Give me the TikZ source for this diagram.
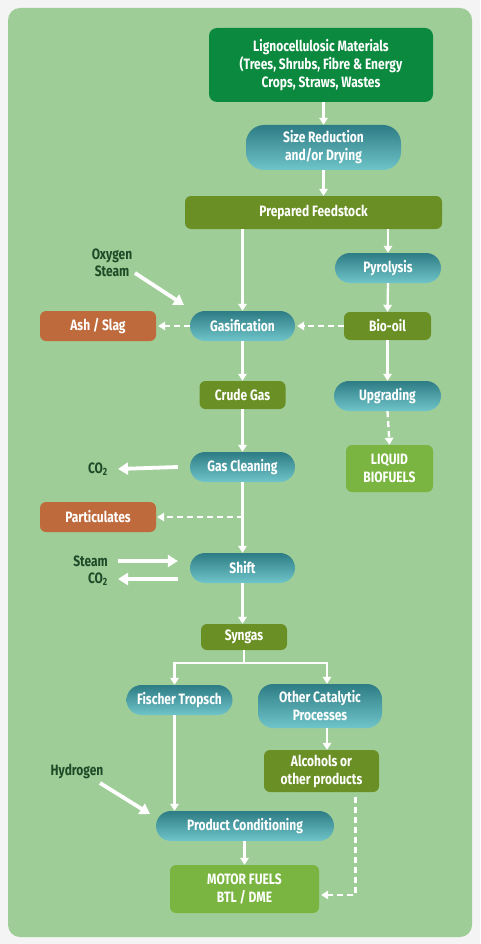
\documentclass[tikz,border=0pt]{standalone}
\usepackage{fontspec}
\setmainfont{Fira Sans}[FakeStretch=0.8]
\usetikzlibrary{arrows.meta}
\definecolor{frame}{HTML}{F4F4F4}
\definecolor{bg}{HTML}{9FCD97}
\definecolor{dkgreen}{HTML}{0B8A3F}
\definecolor{olive}{HTML}{6A8F25}
\definecolor{orng}{HTML}{BF6A3C}
\definecolor{ltgreen}{HTML}{79B540}
\definecolor{tealtop}{HTML}{2E7C85}
\definecolor{tealbot}{HTML}{6FC5C9}
\definecolor{lblcol}{HTML}{1F4A28}
\tikzset{
  box/.style={rectangle, rounded corners=6pt, text=white, inner sep=0pt, align=center,
    font=\bfseries\fontsize{15}{18}\selectfont},
  dkbox/.style={box, fill=dkgreen, rounded corners=8pt},
  olbox/.style={box, fill=olive},
  orbox/.style={box, fill=orng},
  ltbox/.style={box, fill=ltgreen},
  pill/.style={box, rounded corners=15pt, top color=tealtop, bottom color=tealbot},
  lbl/.style={text=lblcol, inner sep=0pt, font=\bfseries\fontsize{15}{17}\selectfont},
  arr/.style={white, line width=2.3pt, -{Triangle[width=8.5pt,length=7pt]}},
  dsh/.style={arr, dash pattern=on 6pt off 4pt},
  fat/.style={white, line width=3.8pt, -{Triangle[width=12pt,length=10pt]}}
}
\begin{document}
\begin{tikzpicture}[x=1pt,y=-1pt]
\fill[frame] (0,0) rectangle (480,944);
\fill[bg, rounded corners=12pt] (8,8) rectangle (472,937);

\node[dkbox, minimum width=224pt, minimum height=74pt] (ligno) at (321,65)
  {Lignocellulosic Materials\\(Trees, Shrubs, Fibre \& Energy\\Crops, Straws, Wastes};
\node[pill, minimum width=155pt, minimum height=45pt, rounded corners=18pt] (size) at (323.5,147.5)
  {Size Reduction\\and/or Drying};
\node[olbox, minimum width=257pt, minimum height=33pt] (prep) at (313.5,212.5) {Prepared Feedstock};
\node[pill, minimum width=106pt, minimum height=30pt] (pyro) at (388,268) {Pyrolysis};
\node[pill, minimum width=105pt, minimum height=30pt] (gas) at (242.5,326) {Gasification};
\node[orbox, minimum width=116pt, minimum height=30pt] (ash) at (98,326) {Ash / Slag};
\node[olbox, minimum width=87pt, minimum height=28pt] (bio) at (387.5,326) {Bio-oil};
\node[olbox, minimum width=86pt, minimum height=28pt] (crude) at (242.5,395) {Crude Gas};
\node[pill, minimum width=107pt, minimum height=30pt] (upg) at (387.5,396) {Upgrading};
\node[ltbox, minimum width=87pt, minimum height=47pt] (liq) at (389.5,468.5) {LIQUID\\BIOFUELS};
\node[pill, minimum width=105pt, minimum height=30pt] (clean) at (242.5,467) {Gas Cleaning};
\node[orbox, minimum width=116pt, minimum height=30pt] (part) at (98,517) {Particulates};
\node[pill, minimum width=105pt, minimum height=30pt] (shift) at (242.5,568) {Shift};
\node[olbox, minimum width=86pt, minimum height=26pt] (syn) at (244,637) {Syngas};
\node[pill, minimum width=106pt, minimum height=30pt] (fis) at (179.5,700) {Fischer Tropsch};
\node[pill, minimum width=124pt, minimum height=44pt] (oth) at (320,706) {Other Catalytic\\Processes};
\node[olbox, minimum width=115pt, minimum height=42pt] (alc) at (321.5,771) {Alcohols or\\other products};
\node[pill, minimum width=178pt, minimum height=30pt] (prod) at (245,826) {Product Conditioning};
\node[ltbox, minimum width=149pt, minimum height=48pt] (motor) at (244.5,889) {MOTOR FUELS\\BTL / DME};

% labels
\node[lbl, align=center] (oxy) at (112,263) {Oxygen\\Steam};
\node[lbl, anchor=east] (co2a) at (108,469) {CO\textsubscript{2}};
\node[lbl, anchor=east] (steam) at (108,561) {Steam};
\node[lbl, anchor=east] (co2b) at (108,579) {CO\textsubscript{2}};
\node[lbl] (hyd) at (77,771) {Hydrogen};

\coordinate (oxyA) at (135,273);
\coordinate (oxyB) at (184,305);
\coordinate (hydA) at (100,783);
\coordinate (hydB) at (150,814);

% connectors
\draw[arr] (ligno.south -| size.north) -- (size.north);
\draw[arr] (size.south) -- (size.south |- prep.north);
\draw[arr] (prep.south -| gas.north) -- (gas.north);
\draw[arr] (prep.south -| pyro.north) -- (pyro.north);
\draw[arr] (pyro.south) -- (bio.north);
\draw[arr] (bio.south) -- (upg.north);
\draw[dsh] (upg.south) -- (liq.north);
\draw[dsh, shorten >=2pt] (gas.west) -- (ash.east);
\draw[dsh, shorten >=2pt] (bio.west) -- (gas.east);
\draw[fat] (oxyA) -- (oxyB);
\draw[arr] (gas.south) -- (crude.north);
\draw[arr] (crude.south) -- (clean.north);
\draw[fat] ([xshift=-12pt]clean.west) -- ([xshift=10pt]co2a.east);
\draw[arr] (clean.south) -- (shift.north);
\draw[dsh, shorten >=1pt] (clean.south |- part.east) -- (part.east);
\draw[fat] ([xshift=10pt]steam.east) -- ([xshift=-12pt]shift.west |- steam.east);
\draw[fat] ([xshift=-12pt]shift.west |- co2b.east) -- ([xshift=10pt]co2b.east);
\draw[arr] (shift.south) -- (shift.south |- syn.north);
\draw[arr] (syn.south) -- ++(0,13) -| ([xshift=-5pt]fis.north);
\draw[arr] (syn.south) -- ++(0,13) -| ([xshift=7pt]oth.north);
\draw[arr] ([xshift=-5pt]fis.south) -- ([xshift=-5pt]fis.south |- prod.north);
\draw[arr] ([xshift=7pt]oth.south) -- ([xshift=7pt]oth.south |- alc.north);
\draw[fat] (hydA) -- (hydB);
\draw[arr] (prod.south -| motor.north) -- (motor.north);
\draw[dsh, shorten <=5pt, shorten >=2pt] ([xshift=34pt]alc.south) |- ([yshift=-6pt]motor.east);
\end{tikzpicture}
\end{document}
